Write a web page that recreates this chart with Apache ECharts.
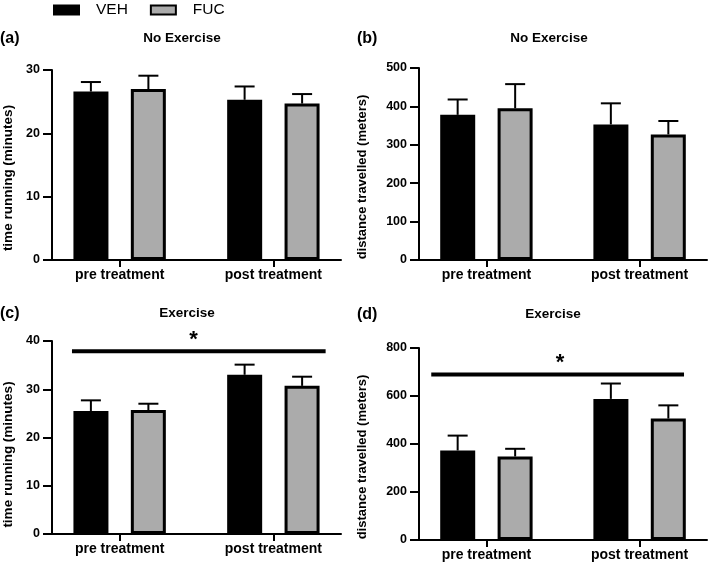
<!DOCTYPE html>
<html><head><meta charset="utf-8">
<script src="https://cdn.jsdelivr.net/npm/echarts@6/dist/echarts.min.js"></script>
<style>html,body{margin:0;padding:0;background:#fff}#c{width:709px;height:570px}</style>
</head><body><div id="c"></div>
<script>
// ---- data ----
const categories = ['pre treatment', 'post treatment'];
const seriesNames = ['VEH', 'FUC'];
const panelLabels = ['(a)', '(b)', '(c)', '(d)'];
const panelTitles = ['No Exercise', 'No Exercise', 'Exercise', 'Exercise'];
const yNames = ['time running (minutes)', 'distance travelled (meters)', 'time running (minutes)', 'distance travelled (meters)'];
const yMax = [30, 500, 40, 800];
const yInterval = [10, 100, 10, 200];

// panel (a) time running, no exercise
const aVEH = [26.6, 25.3];  const aVEHsem = [1.5, 2.1];
const aFUC = [27.0, 24.7];  const aFUCsem = [2.1, 1.5];
// panel (b) distance, no exercise
const bVEH = [378, 353];    const bVEHsem = [40, 55];
const bFUC = [395, 327];    const bFUCsem = [63, 35];
// panel (c) time running, exercise
const cVEH = [25.5, 33.0];  const cVEHsem = [2.2, 2.1];
const cFUC = [25.7, 30.7];  const cFUCsem = [1.3, 1.9];
// panel (d) distance, exercise
const dVEH = [373, 588];    const dVEHsem = [62, 64];
const dFUC = [348, 506];    const dFUCsem = [32, 55];

// significance bars (panels c, d): [start, end] in category units, level, star position
const cSig = { span: [-0.31, 1.34], level: 37.9, star: 0.48 };
const dSig = { span: [-0.36, 1.29], level: 690, star: 0.48 };

const vehData = [aVEH, bVEH, cVEH, dVEH];
const vehSem = [aVEHsem, bVEHsem, cVEHsem, dVEHsem];
const fucData = [aFUC, bFUC, cFUC, dFUC];
const fucSem = [aFUCsem, bFUCsem, cFUCsem, dFUCsem];
const sigs = [null, null, cSig, dSig];

// ---- style / layout ----
const FONT = 'Liberation Sans, Arial, Helvetica, sans-serif';
const GREY = '#ababab';
const grids = [
  { left: 52,  top: 70,  width: 289, height: 190 },
  { left: 419, top: 68,  width: 288, height: 192 },
  { left: 52,  top: 341, width: 289, height: 193 },
  { left: 419, top: 348, width: 288, height: 192 }
];
const nameGaps = [37, 50, 37, 50];
const namePads = [26, 26, 34, 26];
const nameSizes = [13.5, 13, 13.5, 13];
const BAR_W = 35, BAR_OFF = 28.75;

const xAxes = grids.map((g, i) => ({
  type: 'value', gridIndex: i, min: -0.44, max: 1.44,
  axisLine: { show: true, onZero: false, lineStyle: { color: '#000', width: 2 } },
  axisTick: { show: true, customValues: [0, 1], length: 7, lineStyle: { color: '#000', width: 2 } },
  axisLabel: { show: true, customValues: [0, 1], formatter: v => categories[Math.round(v)],
    margin: 8, fontSize: 14, fontWeight: 'bold', color: '#000', fontFamily: FONT },
  splitLine: { show: false }
}));
const yAxes = grids.map((g, i) => ({
  type: 'value', gridIndex: i, min: 0, max: yMax[i], interval: yInterval[i],
  name: yNames[i], nameLocation: 'middle', nameGap: nameGaps[i],
  nameTextStyle: { fontSize: nameSizes[i], fontWeight: 'bold', color: '#000', fontFamily: FONT, padding: [0, namePads[i], 0, 0] },
  axisLine: { show: true, onZero: false, lineStyle: { color: '#000', width: 2 } },
  axisTick: { show: true, length: 9, lineStyle: { color: '#000', width: 2 } },
  axisLabel: { margin: 12, fontSize: 12.5, fontWeight: 'bold', color: '#000', fontFamily: FONT },
  splitLine: { show: false }
}));

function errSeries(i, means, sems, offset) {
  return {
    type: 'custom', xAxisIndex: i, yAxisIndex: i, z: 1, silent: true,
    encode: { x: 0, y: 1 },
    data: means.map((m, k) => [k, m, sems[k]]),
    renderItem: (params, api) => {
      const x = api.value(0), m = api.value(1), s = api.value(2);
      const p0 = api.coord([x, m]), p1 = api.coord([x, m + s]);
      const cx = p0[0] + offset;
      return { type: 'group', children: [
        { type: 'line', shape: { x1: cx, y1: p0[1], x2: cx, y2: p1[1] }, style: { stroke: '#000', lineWidth: 2 } },
        { type: 'line', shape: { x1: cx - 10, y1: p1[1], x2: cx + 10, y2: p1[1] }, style: { stroke: '#000', lineWidth: 2 } }
      ]};
    }
  };
}

const series = [];
for (let i = 0; i < 4; i++) {
  series.push({
    name: seriesNames[0], type: 'bar', xAxisIndex: i, yAxisIndex: i, z: 2,
    barWidth: BAR_W, barGap: '64%',
    data: vehData[i].map((v, k) => [k, v]),
    itemStyle: { color: '#000', borderColor: '#000', borderWidth: 3 }
  });
  series.push({
    name: seriesNames[1], type: 'bar', xAxisIndex: i, yAxisIndex: i, z: 2,
    barWidth: BAR_W, barGap: '64%',
    data: fucData[i].map((v, k) => [k, v]),
    itemStyle: { color: GREY, borderColor: '#000', borderWidth: 3 }
  });
  series.push(errSeries(i, vehData[i], vehSem[i], -BAR_OFF));
  series.push(errSeries(i, fucData[i], fucSem[i], BAR_OFF));
  if (sigs[i]) {
    const s = sigs[i];
    series.push({
      type: 'custom', xAxisIndex: i, yAxisIndex: i, z: 3, silent: true,
      encode: { x: [0, 1], y: 2 },
      data: [[s.span[0], s.span[1], s.level, s.star]],
      renderItem: (params, api) => {
        const a = api.coord([api.value(0), api.value(2)]);
        const b = api.coord([api.value(1), api.value(2)]);
        const st = api.coord([api.value(3), api.value(2)]);
        return { type: 'group', children: [
          { type: 'line', shape: { x1: a[0], y1: a[1], x2: b[0], y2: b[1] }, style: { stroke: '#000', lineWidth: 4 } },
          { type: 'text', x: st[0], y: st[1] - 11, style: { text: '*', fontSize: 22, fontWeight: 'bold', fontFamily: FONT, fill: '#000', align: 'center', verticalAlign: 'middle' } }
        ]};
      }
    });
  }
}

const labelPos = [[0, 39], [357, 39], [0, 314], [357, 315]];
const titlePos = [[182, 38], [549, 38], [187, 313.5], [553, 314.5]];
const graphics = [];
for (let i = 0; i < 4; i++) {
  graphics.push({ type: 'text', x: labelPos[i][0], y: labelPos[i][1],
    style: { text: panelLabels[i], fontSize: 16, fontWeight: 'bold', fontFamily: FONT, fill: '#000', align: 'left', verticalAlign: 'middle' } });
  graphics.push({ type: 'text', x: titlePos[i][0], y: titlePos[i][1],
    style: { text: panelTitles[i], fontSize: 13.5, fontWeight: 'bold', fontFamily: FONT, fill: '#000', align: 'center', verticalAlign: 'middle' } });
}

const chart = echarts.init(document.getElementById('c'), null, { renderer: 'canvas' });
chart.setOption({
  animation: false,
  backgroundColor: '#fff',
  legend: {
    data: seriesNames, left: 53, top: 2, padding: 0, icon: 'rect', itemWidth: 25, itemHeight: 9, itemGap: 22,
    textStyle: { fontSize: 15.5, color: '#000', fontFamily: FONT, padding: [0, 0, 0, 12] }
  },
  grid: grids,
  xAxis: xAxes,
  yAxis: yAxes,
  series: series,
  graphic: graphics
});
</script></body></html>
